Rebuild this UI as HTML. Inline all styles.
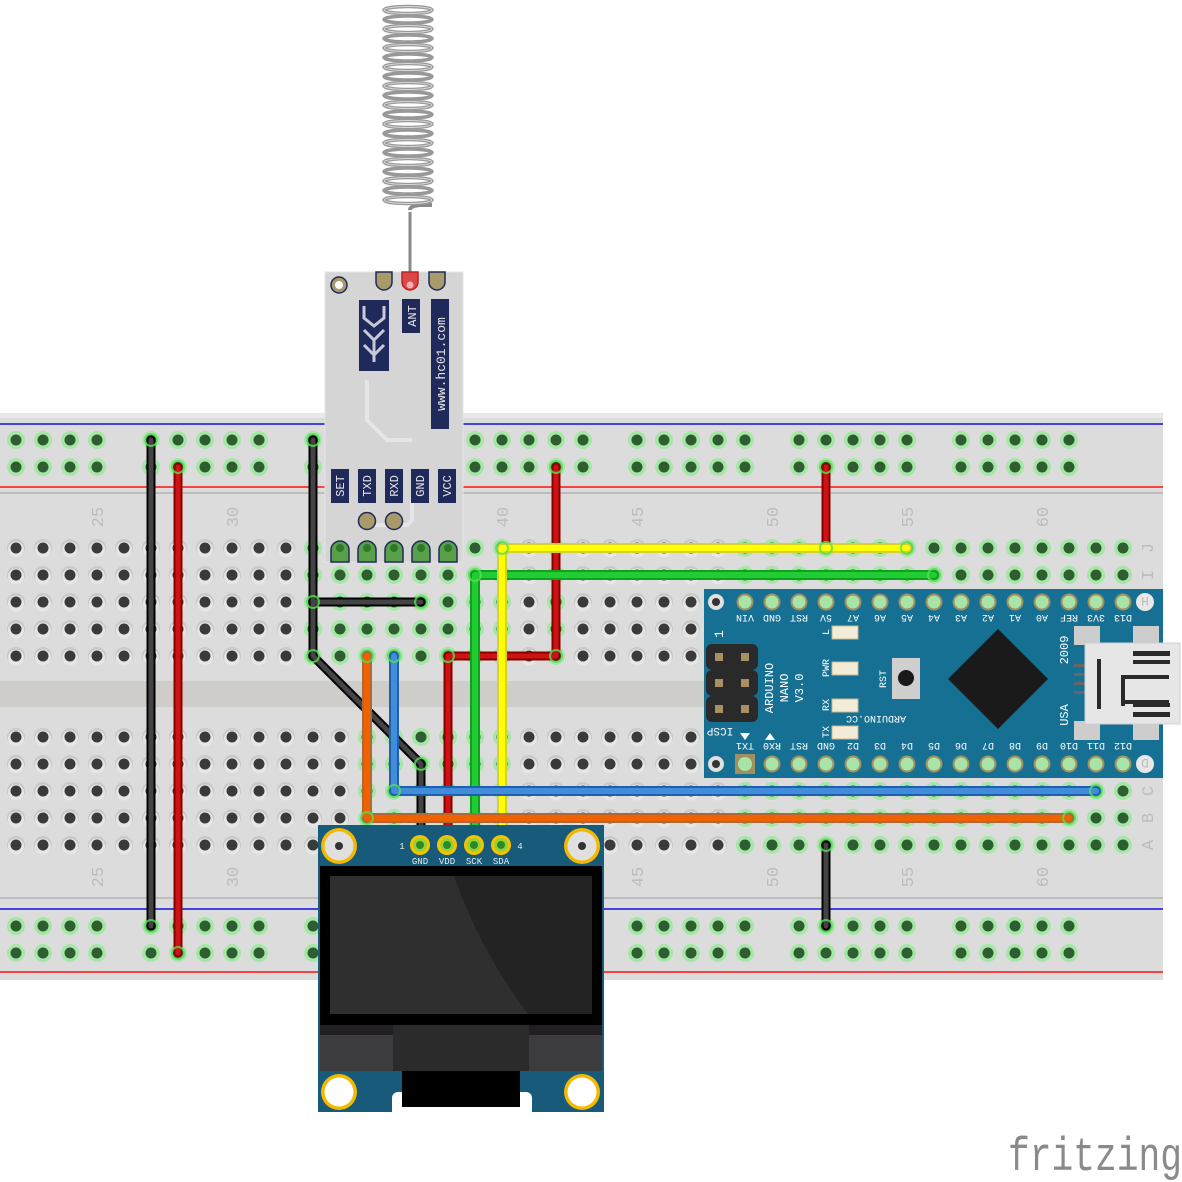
<!DOCTYPE html>
<html><head><meta charset="utf-8"><style>
html,body{margin:0;padding:0;background:#fff;}
svg{display:block;}
text{font-family:"Liberation Mono","DejaVu Sans Mono",monospace;}
</style></head><body>
<svg width="1182" height="1182" viewBox="0 0 1182 1182" xmlns="http://www.w3.org/2000/svg">
<defs>
<pattern id="hd" x="2.5" y="534.5" width="27" height="27" patternUnits="userSpaceOnUse">
 <circle cx="13.5" cy="13.5" r="9" fill="#c9c9c9"/><circle cx="13.5" cy="15" r="8" fill="#e6e6e6"/><circle cx="13.5" cy="13.5" r="5.5" fill="#3a3a3a"/>
</pattern>
<pattern id="hg" x="2.5" y="534.5" width="27" height="27" patternUnits="userSpaceOnUse">
 <circle cx="13.5" cy="13.5" r="9" fill="#a6e6a6"/><circle cx="13.5" cy="13.5" r="5.5" fill="#2e5e30"/>
</pattern>
<pattern id="hd2" x="2.5" y="723.5" width="27" height="27" patternUnits="userSpaceOnUse">
 <circle cx="13.5" cy="13.5" r="9" fill="#c9c9c9"/><circle cx="13.5" cy="15" r="8" fill="#e6e6e6"/><circle cx="13.5" cy="13.5" r="5.5" fill="#3a3a3a"/>
</pattern>
<pattern id="hg2" x="2.5" y="723.5" width="27" height="27" patternUnits="userSpaceOnUse">
 <circle cx="13.5" cy="13.5" r="9" fill="#a6e6a6"/><circle cx="13.5" cy="13.5" r="5.5" fill="#2e5e30"/>
</pattern>
<pattern id="rail" x="137.5" y="426.5" width="162" height="27" patternUnits="userSpaceOnUse">
 <g fill="#a6e6a6"><circle cx="13.5" cy="13.5" r="9"/><circle cx="40.5" cy="13.5" r="9"/><circle cx="67.5" cy="13.5" r="9"/><circle cx="94.5" cy="13.5" r="9"/><circle cx="121.5" cy="13.5" r="9"/></g>
 <g fill="#2e5e30"><circle cx="13.5" cy="13.5" r="5.5"/><circle cx="40.5" cy="13.5" r="5.5"/><circle cx="67.5" cy="13.5" r="5.5"/><circle cx="94.5" cy="13.5" r="5.5"/><circle cx="121.5" cy="13.5" r="5.5"/></g>
</pattern>
<pattern id="rail2" x="137.5" y="912.5" width="162" height="27" patternUnits="userSpaceOnUse">
 <g fill="#a6e6a6"><circle cx="13.5" cy="13.5" r="9"/><circle cx="40.5" cy="13.5" r="9"/><circle cx="67.5" cy="13.5" r="9"/><circle cx="94.5" cy="13.5" r="9"/><circle cx="121.5" cy="13.5" r="9"/></g>
 <g fill="#2e5e30"><circle cx="13.5" cy="13.5" r="5.5"/><circle cx="40.5" cy="13.5" r="5.5"/><circle cx="67.5" cy="13.5" r="5.5"/><circle cx="94.5" cy="13.5" r="5.5"/><circle cx="121.5" cy="13.5" r="5.5"/></g>
</pattern>
</defs>

<!-- Breadboard -->
<rect x="0" y="413" width="1163" height="567" fill="#dcdcdc"/>
<rect x="0" y="413" width="1163" height="5" fill="#e8e8e8"/>
<line x1="0" y1="424" x2="1163" y2="424" stroke="#1010e0" stroke-width="1.5"/>
<line x1="0" y1="487" x2="1163" y2="487" stroke="#ff1010" stroke-width="1.5"/>
<line x1="0" y1="493" x2="1163" y2="493" stroke="#bdbdbd" stroke-width="2"/>
<rect x="0" y="681" width="1163" height="26" fill="#cfcdca"/>
<line x1="0" y1="898" x2="1163" y2="898" stroke="#bdbdbd" stroke-width="2"/>
<line x1="0" y1="909" x2="1163" y2="909" stroke="#1010e0" stroke-width="1.5"/>
<line x1="0" y1="972" x2="1163" y2="972" stroke="#ff1010" stroke-width="1.5"/>

<rect x="0" y="426.5" width="1100" height="54" fill="url(#rail)"/>
<rect x="0" y="912.5" width="1100" height="54" fill="url(#rail2)"/>

<rect x="2.5" y="534.5" width="1134" height="135" fill="url(#hd)"/>
<rect x="299.5" y="534.5" width="216" height="135" fill="url(#hg)"/>
<rect x="542.5" y="534.5" width="27" height="135" fill="url(#hg)"/>
<rect x="731.5" y="534.5" width="405" height="135" fill="url(#hg)"/>
<rect x="2.5" y="723.5" width="1134" height="135" fill="url(#hd2)"/>
<rect x="353.5" y="723.5" width="162" height="135" fill="url(#hg2)"/>
<rect x="731.5" y="723.5" width="405" height="135" fill="url(#hg2)"/>

<g fill="#bcbcbc" font-size="17" font-family="Liberation Sans, sans-serif">
 <text transform="translate(103,517) rotate(-90)" text-anchor="middle">25</text>
 <text transform="translate(238,517) rotate(-90)" text-anchor="middle">30</text>
 <text transform="translate(508,517) rotate(-90)" text-anchor="middle">40</text>
 <text transform="translate(643,517) rotate(-90)" text-anchor="middle">45</text>
 <text transform="translate(778,517) rotate(-90)" text-anchor="middle">50</text>
 <text transform="translate(913,517) rotate(-90)" text-anchor="middle">55</text>
 <text transform="translate(1048,517) rotate(-90)" text-anchor="middle">60</text>
 <text transform="translate(103,877) rotate(-90)" text-anchor="middle">25</text>
 <text transform="translate(238,877) rotate(-90)" text-anchor="middle">30</text>
 <text transform="translate(643,877) rotate(-90)" text-anchor="middle">45</text>
 <text transform="translate(778,877) rotate(-90)" text-anchor="middle">50</text>
 <text transform="translate(913,877) rotate(-90)" text-anchor="middle">55</text>
 <text transform="translate(1048,877) rotate(-90)" text-anchor="middle">60</text>
 <text transform="translate(1153,548) rotate(-90)" text-anchor="middle">J</text>
 <text transform="translate(1153,575) rotate(-90)" text-anchor="middle">I</text>
 <text transform="translate(1153,791) rotate(-90)" text-anchor="middle">C</text>
 <text transform="translate(1153,818) rotate(-90)" text-anchor="middle">B</text>
 <text transform="translate(1153,845) rotate(-90)" text-anchor="middle">A</text>
</g>

<!-- Antenna -->
<g fill="none" stroke="#8a8a8a" stroke-width="4">
 <path d="M410 210 Q410 206 420 205 L432 205"/>
 <path d="M410 212 L410 283" stroke-width="3"/>
</g>
<g fill="none" stroke="#999" stroke-width="3.5">
 <ellipse cx="408" cy="10" rx="24" ry="3.5"/><ellipse cx="408" cy="19.5" rx="24" ry="3.5"/><ellipse cx="408" cy="29" rx="24" ry="3.5"/><ellipse cx="408" cy="38.5" rx="24" ry="3.5"/><ellipse cx="408" cy="48" rx="24" ry="3.5"/><ellipse cx="408" cy="57.5" rx="24" ry="3.5"/><ellipse cx="408" cy="67" rx="24" ry="3.5"/><ellipse cx="408" cy="76.5" rx="24" ry="3.5"/><ellipse cx="408" cy="86" rx="24" ry="3.5"/><ellipse cx="408" cy="95.5" rx="24" ry="3.5"/><ellipse cx="408" cy="105" rx="24" ry="3.5"/><ellipse cx="408" cy="114.5" rx="24" ry="3.5"/><ellipse cx="408" cy="124" rx="24" ry="3.5"/><ellipse cx="408" cy="133.5" rx="24" ry="3.5"/><ellipse cx="408" cy="143" rx="24" ry="3.5"/><ellipse cx="408" cy="152.5" rx="24" ry="3.5"/><ellipse cx="408" cy="162" rx="24" ry="3.5"/><ellipse cx="408" cy="171.5" rx="24" ry="3.5"/><ellipse cx="408" cy="181" rx="24" ry="3.5"/><ellipse cx="408" cy="190.5" rx="24" ry="3.5"/><ellipse cx="408" cy="200" rx="24" ry="3.5"/>
</g>
<g fill="none" stroke="#d8d8d8" stroke-width="1">
 <ellipse cx="408" cy="10" rx="24" ry="3.5"/><ellipse cx="408" cy="29" rx="24" ry="3.5"/><ellipse cx="408" cy="48" rx="24" ry="3.5"/><ellipse cx="408" cy="67" rx="24" ry="3.5"/><ellipse cx="408" cy="86" rx="24" ry="3.5"/><ellipse cx="408" cy="105" rx="24" ry="3.5"/><ellipse cx="408" cy="124" rx="24" ry="3.5"/><ellipse cx="408" cy="143" rx="24" ry="3.5"/><ellipse cx="408" cy="162" rx="24" ry="3.5"/><ellipse cx="408" cy="181" rx="24" ry="3.5"/><ellipse cx="408" cy="200" rx="24" ry="3.5"/>
</g>

<!-- HC-12 -->
<g>
 <rect x="325" y="272" width="138" height="290" fill="#d5d5d5" stroke="#e4e4e4"/>
 <circle cx="339" cy="285" r="8" fill="#a89a6a" stroke="#1f2a5a" stroke-width="1.5"/><circle cx="339" cy="285" r="4" fill="#fff"/>
 <path d="M376 272 v10 a8 8 0 0 0 16 0 v-10 z" fill="#a89a6a" stroke="#1f2a5a" stroke-width="1.5"/>
 <path d="M402 272 v10 a8 8 0 0 0 16 0 v-10 z" fill="#d84848" stroke="#c02020" stroke-width="1.5"/>
 <circle cx="410" cy="285" r="3.5" fill="#f6b0b0"/>
 <path d="M429 272 v10 a8 8 0 0 0 16 0 v-10 z" fill="#a89a6a" stroke="#1f2a5a" stroke-width="1.5"/>
 <rect x="359" y="300" width="30" height="71" fill="#1f2a5a"/>
 <path d="M364 306 v12 l10 8 l10 -8 v-12 M364 330 l10 10 l10 -10 M364 345 l10 10 l10 -10 M374 340 v22" fill="none" stroke="#c8c8d8" stroke-width="3"/>
 <rect x="402" y="299" width="18" height="34" fill="#1f2a5a"/>
 <text transform="translate(416,316) rotate(-90)" text-anchor="middle" fill="#e6e6e6" font-size="12">ANT</text>
 <rect x="431" y="299" width="18" height="130" fill="#1f2a5a"/>
 <text transform="translate(445,364) rotate(-90)" text-anchor="middle" fill="#e6e6e6" font-size="13">www.hc01.com</text>
 <path d="M367 380 v40 l20 20 h25 M367 510 v15 h40 l5 -5 v-20" fill="none" stroke="#e6e6e6" stroke-width="4"/>
 <g fill="#1f2a5a">
  <rect x="331" y="469" width="18" height="34"/><rect x="358" y="469" width="18" height="34"/><rect x="385" y="469" width="18" height="34"/><rect x="411" y="469" width="18" height="34"/><rect x="438" y="469" width="18" height="34"/>
 </g>
 <g fill="#e6e6e6" font-size="12" text-anchor="middle">
  <text transform="translate(344,486) rotate(-90)">SET</text>
  <text transform="translate(371,486) rotate(-90)">TXD</text>
  <text transform="translate(398,486) rotate(-90)">RXD</text>
  <text transform="translate(424,486) rotate(-90)">GND</text>
  <text transform="translate(451,486) rotate(-90)">VCC</text>
 </g>
 <circle cx="367" cy="521" r="8.5" fill="#a89a6a" stroke="#1f2a5a" stroke-width="1.5"/>
 <circle cx="394" cy="521" r="8.5" fill="#a89a6a" stroke="#1f2a5a" stroke-width="1.5"/>
 <g fill="#5aa04a" stroke="#1f2a5a" stroke-width="1.5">
  <path d="M331 562 v-12 a9 9 0 0 1 18 0 v12z"/><path d="M358 562 v-12 a9 9 0 0 1 18 0 v12z"/><path d="M385 562 v-12 a9 9 0 0 1 18 0 v12z"/><path d="M412 562 v-12 a9 9 0 0 1 18 0 v12z"/><path d="M439 562 v-12 a9 9 0 0 1 18 0 v12z"/>
 </g>
 <g fill="#2a7a2a"><circle cx="340" cy="548" r="4"/><circle cx="367" cy="548" r="4"/><circle cx="394" cy="548" r="4"/><circle cx="421" cy="548" r="4"/><circle cx="448" cy="548" r="4"/></g>
</g>

<!-- Arduino Nano -->
<g>
 <rect x="704" y="589" width="459" height="189" fill="#157093"/>
 <circle cx="716" cy="602" r="8" fill="#e0e0e0"/><circle cx="716" cy="602" r="4" fill="#333"/>
 <circle cx="716" cy="764" r="8" fill="#e0e0e0"/><circle cx="716" cy="764" r="4" fill="#333"/>
 <circle cx="1145" cy="602" r="9" fill="#e8e8e8"/><text x="1145" y="607" fill="#bbb" font-size="13" text-anchor="middle" transform="rotate(180 1145 602)">H</text>
 <circle cx="1145" cy="764" r="9" fill="#e8e8e8"/><text x="1145" y="769" fill="#bbb" font-size="13" text-anchor="middle" transform="rotate(180 1145 764)">D</text>
 <g fill="#a8e4a8" stroke="#a09060" stroke-width="2">
  <circle cx="745" cy="602" r="7.5"/><circle cx="772" cy="602" r="7.5"/><circle cx="799" cy="602" r="7.5"/><circle cx="826" cy="602" r="7.5"/><circle cx="853" cy="602" r="7.5"/><circle cx="880" cy="602" r="7.5"/><circle cx="907" cy="602" r="7.5"/><circle cx="934" cy="602" r="7.5"/><circle cx="961" cy="602" r="7.5"/><circle cx="988" cy="602" r="7.5"/><circle cx="1015" cy="602" r="7.5"/><circle cx="1042" cy="602" r="7.5"/><circle cx="1069" cy="602" r="7.5"/><circle cx="1096" cy="602" r="7.5"/><circle cx="1123" cy="602" r="7.5"/>
  <circle cx="772" cy="764" r="7.5"/><circle cx="799" cy="764" r="7.5"/><circle cx="826" cy="764" r="7.5"/><circle cx="853" cy="764" r="7.5"/><circle cx="880" cy="764" r="7.5"/><circle cx="907" cy="764" r="7.5"/><circle cx="934" cy="764" r="7.5"/><circle cx="961" cy="764" r="7.5"/><circle cx="988" cy="764" r="7.5"/><circle cx="1015" cy="764" r="7.5"/><circle cx="1042" cy="764" r="7.5"/><circle cx="1069" cy="764" r="7.5"/><circle cx="1096" cy="764" r="7.5"/><circle cx="1123" cy="764" r="7.5"/>
 </g>
 <rect x="735" y="754" width="20" height="20" fill="#a09060"/><circle cx="745" cy="764" r="7" fill="#a8e4a8"/>
 <g fill="#fff" font-size="10" text-anchor="middle">
  <text transform="translate(745,615) rotate(180)">VIN</text><text transform="translate(772,615) rotate(180)">GND</text><text transform="translate(799,615) rotate(180)">RST</text><text transform="translate(826,615) rotate(180)">5V</text><text transform="translate(853,615) rotate(180)">A7</text><text transform="translate(880,615) rotate(180)">A6</text><text transform="translate(907,615) rotate(180)">A5</text><text transform="translate(934,615) rotate(180)">A4</text><text transform="translate(961,615) rotate(180)">A3</text><text transform="translate(988,615) rotate(180)">A2</text><text transform="translate(1015,615) rotate(180)">A1</text><text transform="translate(1042,615) rotate(180)">A0</text><text transform="translate(1069,615) rotate(180)">REF</text><text transform="translate(1096,615) rotate(180)">3V3</text><text transform="translate(1123,615) rotate(180)">D13</text>
  <text transform="translate(745,743) rotate(180)">TX1</text><text transform="translate(772,743) rotate(180)">RX0</text><text transform="translate(799,743) rotate(180)">RST</text><text transform="translate(826,743) rotate(180)">GND</text><text transform="translate(853,743) rotate(180)">D2</text><text transform="translate(880,743) rotate(180)">D3</text><text transform="translate(907,743) rotate(180)">D4</text><text transform="translate(934,743) rotate(180)">D5</text><text transform="translate(961,743) rotate(180)">D6</text><text transform="translate(988,743) rotate(180)">D7</text><text transform="translate(1015,743) rotate(180)">D8</text><text transform="translate(1042,743) rotate(180)">D9</text><text transform="translate(1069,743) rotate(180)">D10</text><text transform="translate(1096,743) rotate(180)">D11</text><text transform="translate(1123,743) rotate(180)">D12</text>
 </g>
 <g fill="#2a2a2a"><rect x="706" y="644" width="52" height="26" rx="6"/><rect x="706" y="670" width="52" height="26" rx="6"/><rect x="706" y="696" width="52" height="26" rx="6"/></g>
 <g fill="#a89060"><rect x="715" y="653" width="8" height="8"/><rect x="741" y="653" width="8" height="8"/><rect x="715" y="679" width="8" height="8"/><rect x="741" y="679" width="8" height="8"/><rect x="715" y="705" width="8" height="8"/><rect x="741" y="705" width="8" height="8"/></g>
 <text transform="translate(723,634) rotate(-90)" fill="#fff" font-size="13" text-anchor="middle">1</text>
 <text transform="translate(720,728) rotate(180)" fill="#fff" font-size="11" text-anchor="middle">ICSP</text>
 <path d="M740 733 h10 l-5 7z M765 740 h10 l-5 -7z" fill="#fff"/>
 <g fill="#fff" font-size="12" text-anchor="middle">
  <text transform="translate(773,688) rotate(-90)">ARDUINO</text>
  <text transform="translate(788,688) rotate(-90)">NANO</text>
  <text transform="translate(803,688) rotate(-90)">V3.0</text>
 </g>
 <g fill="#f2ecd8" stroke="#c8b890"><rect x="832" y="626" width="26" height="13"/><rect x="832" y="662" width="26" height="13"/><rect x="832" y="699" width="26" height="13"/><rect x="832" y="726" width="26" height="13"/></g>
 <g fill="#fff" font-size="10" text-anchor="middle">
  <text transform="translate(829,632) rotate(-90)">L</text>
  <text transform="translate(829,668) rotate(-90)">PWR</text>
  <text transform="translate(829,705) rotate(-90)">RX</text>
  <text transform="translate(829,732) rotate(-90)">TX</text>
  <text transform="translate(886,679) rotate(-90)">RST</text>
  <text transform="translate(876,716) rotate(180)">ARDUINO.CC</text>
  <text transform="translate(1068,650) rotate(-90)" font-size="12">2009</text>
  <text transform="translate(1068,715) rotate(-90)" font-size="12">USA</text>
 </g>
 <rect x="892" y="658" width="28" height="41" fill="#cfcfcf"/><circle cx="906" cy="678" r="8" fill="#1a1a1a"/>
 <path d="M998 629 L1048 679 L998 729 L948 679z" fill="#1a1a1a"/>
 <g fill="#cdcdcd"><rect x="1074" y="626" width="26" height="19"/><rect x="1074" y="721" width="26" height="19"/><rect x="1133" y="626" width="26" height="19"/><rect x="1133" y="721" width="26" height="19"/></g>
 <g fill="#666"><rect x="1074" y="664" width="12" height="3"/><rect x="1074" y="673" width="12" height="3"/><rect x="1074" y="682" width="12" height="3"/><rect x="1074" y="691" width="12" height="3"/></g>
 <rect x="1085" y="643" width="95" height="81" fill="#e6e6e6" stroke="#d0d0d0"/>
 <g fill="#2a2a2a"><rect x="1097" y="659" width="4" height="50"/><rect x="1133" y="651" width="37" height="5"/><rect x="1133" y="712" width="37" height="5"/><path d="M1121 675 h48 v4 h-44 v27 h-4z M1125 700 h44 v4 h-44z"/><path d="M1133 660 h37 v4 h-37z"/><rect x="1133" y="703" width="37" height="4"/></g>
</g>

<!-- Wires -->
<g fill="none" stroke-linecap="round" stroke-linejoin="round">
 <g stroke="#000" stroke-width="9"><path d="M151 440 V926"/><path d="M313 440 V656 L421 764 V830"/><path d="M313 602 H421"/><path d="M826 845 V926"/></g>
 <g stroke="#444" stroke-width="5"><path d="M151 440 V926"/><path d="M313 440 V656 L421 764 V830"/><path d="M313 602 H421"/><path d="M826 845 V926"/></g>
 <g stroke="#8a0000" stroke-width="9"><path d="M178 467 V953"/><path d="M556 467 V656 H448 V830"/><path d="M826 467 V548"/></g>
 <g stroke="#cc1414" stroke-width="5"><path d="M178 467 V953"/><path d="M556 467 V656 H448 V830"/><path d="M826 467 V548"/></g>
 <path d="M934 575 H475 V830" stroke="#10a020" stroke-width="10"/>
 <path d="M934 575 H475 V830" stroke="#22cc33" stroke-width="6"/>
 <path d="M907 548 H502 V830" stroke="#d8d030" stroke-width="10"/>
 <path d="M907 548 H502 V830" stroke="#ffff00" stroke-width="6"/>
 <path d="M1096 791 H394 V656" stroke="#1f5fb0" stroke-width="10"/>
 <path d="M1096 791 H394 V656" stroke="#418dd9" stroke-width="6"/>
 <path d="M1069 818 H367 V656" stroke="#b06838" stroke-width="10"/>
 <path d="M1069 818 H367 V656" stroke="#ee6200" stroke-width="6"/>
</g>
<g fill="none" stroke="#55e055" stroke-width="2" opacity="0.8">
 <circle cx="151" cy="440" r="6"/><circle cx="178" cy="467" r="6"/><circle cx="151" cy="926" r="6"/><circle cx="178" cy="953" r="6"/><circle cx="313" cy="440" r="6"/><circle cx="313" cy="602" r="6"/><circle cx="313" cy="656" r="6"/><circle cx="421" cy="602" r="6"/><circle cx="421" cy="764" r="6"/><circle cx="556" cy="467" r="6"/><circle cx="556" cy="656" r="6"/><circle cx="448" cy="656" r="6"/><circle cx="826" cy="467" r="6"/><circle cx="826" cy="548" r="6"/><circle cx="907" cy="548" r="6"/><circle cx="502" cy="548" r="6"/><circle cx="934" cy="575" r="6"/><circle cx="475" cy="575" r="6"/><circle cx="1096" cy="791" r="6"/><circle cx="394" cy="791" r="6"/><circle cx="394" cy="656" r="6"/><circle cx="1069" cy="818" r="6"/><circle cx="367" cy="818" r="6"/><circle cx="367" cy="656" r="6"/><circle cx="826" cy="845" r="6"/><circle cx="826" cy="926" r="6"/>
</g>

<!-- OLED -->
<g>
 <path d="M318 825 H604 V1112 H532 V1098 a6 6 0 0 0 -6 -6 H398 a6 6 0 0 0 -6 6 V1112 H318 Z" fill="#175a7a"/>
 <circle cx="339" cy="846" r="18" fill="#f5b800"/><circle cx="339" cy="846" r="14.5" fill="#e0e0e0"/><circle cx="339" cy="846" r="4" fill="#333"/>
 <circle cx="582" cy="846" r="18" fill="#f5b800"/><circle cx="582" cy="846" r="14.5" fill="#e0e0e0"/><circle cx="582" cy="846" r="4" fill="#333"/>
 <g fill="#f5c400"><circle cx="420" cy="845" r="10"/><circle cx="447" cy="845" r="10"/><circle cx="474" cy="845" r="10"/><circle cx="501" cy="845" r="10"/></g>
 <g fill="#9ad030"><circle cx="420" cy="845" r="7"/><circle cx="447" cy="845" r="7"/><circle cx="474" cy="845" r="7"/><circle cx="501" cy="845" r="7"/></g>
 <g fill="#2a8a2a"><circle cx="420" cy="845" r="4"/><circle cx="447" cy="845" r="4"/><circle cx="474" cy="845" r="4"/><circle cx="501" cy="845" r="4"/></g>
 <g fill="#e8eef2" font-size="9" font-family="Liberation Sans, sans-serif" text-anchor="middle">
  <text x="420" y="864">GND</text><text x="447" y="864">VDD</text><text x="474" y="864">SCK</text><text x="501" y="864">SDA</text>
  <text x="402" y="849">1</text><text x="520" y="849">4</text>
 </g>
 <rect x="320" y="866" width="282" height="160" fill="#000"/>
 <rect x="330" y="876" width="262" height="138" fill="#2f2f2f"/>
 <path d="M454 876 H592 V1014 H528 Q480 950 454 876z" fill="#232323"/>
 <rect x="320" y="1025" width="282" height="10" fill="#221f22"/>
 <rect x="320" y="1035" width="73" height="36" fill="#3c3c3e"/>
 <rect x="393" y="1025" width="136" height="46" fill="#2b2b2b"/>
 <rect x="529" y="1035" width="73" height="36" fill="#3c3c3e"/>
 <rect x="402" y="1071" width="118" height="36" fill="#000"/>
 <circle cx="339" cy="1092" r="18" fill="#f5b800"/><circle cx="339" cy="1092" r="14.5" fill="#fff"/>
 <circle cx="582" cy="1092" r="18" fill="#f5b800"/><circle cx="582" cy="1092" r="14.5" fill="#fff"/>
</g>

<text x="1008" y="1170" fill="#8a8a8a" font-size="47" font-family="DejaVu Sans Mono, Liberation Mono, monospace" textLength="174" lengthAdjust="spacingAndGlyphs">fritzing</text>
</svg>
</body></html>
